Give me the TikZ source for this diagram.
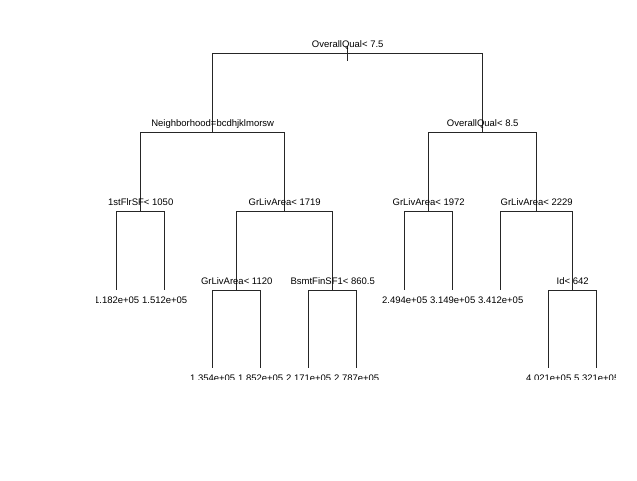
\documentclass[tikz,border=0pt]{standalone}
\usepackage{fontspec}
\setmainfont{Liberation Sans}
\usetikzlibrary{positioning}

\begin{document}
\begin{tikzpicture}[x=1pt,y=-1pt]
			\tikzstyle{Label}	= [anchor=base, inner sep=0pt, font=\fontsize{9.5}{11}\selectfont]
			\tikzstyle{Split}	= [Label]
			\tikzstyle{Leaf}	= [Label]
			\tikzstyle{Branch}	= [black!85, line width=0.9pt]
			
			\useasboundingbox (0,0) rectangle (637,480);
			
			% split points
			\coordinate (s0) at (347.7,53);
			\coordinate (s1) at (212.7,132.5);
			\coordinate (s2) at (482.7,132.5);
			\coordinate (s3) at (140.7,211.5);
			\coordinate (s4) at (284.7,211.5);
			\coordinate (s5) at (428.7,211.5);
			\coordinate (s6) at (536.7,211.5);
			\coordinate (s7) at (236.7,290);
			\coordinate (s8) at (332.7,290);
			\coordinate (s9) at (572.7,290);
			
			% leaves
			\coordinate (f1) at (116.7,290);
			\coordinate (f2) at (164.7,290);
			\coordinate (f3) at (212.7,368);
			\coordinate (f4) at (260.7,368);
			\coordinate (f5) at (308.7,368);
			\coordinate (f6) at (356.7,368);
			\coordinate (f7) at (404.7,290);
			\coordinate (f8) at (452.7,290);
			\coordinate (f9) at (500.7,290);
			\coordinate (f10) at (548.7,368);
			\coordinate (f11) at (596.7,368);
			
			\coordinate (r0) at (347.7,46);
			\coordinate (r1) at (347.7,61);
			\draw [-] (r0) to (r1) [Branch];
			
			\draw [-] (s0) -| (s1) [Branch];
			\draw [-] (s0) -| (s2) [Branch];
			\draw [-] (s1) -| (s3) [Branch];
			\draw [-] (s1) -| (s4) [Branch];
			\draw [-] (s2) -| (s5) [Branch];
			\draw [-] (s2) -| (s6) [Branch];
			\draw [-] (s3) -| (f1) [Branch];
			\draw [-] (s3) -| (f2) [Branch];
			\draw [-] (s4) -| (s7) [Branch];
			\draw [-] (s4) -| (s8) [Branch];
			\draw [-] (s5) -| (f7) [Branch];
			\draw [-] (s5) -| (f8) [Branch];
			\draw [-] (s6) -| (f9) [Branch];
			\draw [-] (s6) -| (s9) [Branch];
			\draw [-] (s7) -| (f3) [Branch];
			\draw [-] (s7) -| (f4) [Branch];
			\draw [-] (s8) -| (f5) [Branch];
			\draw [-] (s8) -| (f6) [Branch];
			\draw [-] (s9) -| (f10) [Branch];
			\draw [-] (s9) -| (f11) [Branch];
			
			\begin{scope}
				\clip (96,0) rectangle (615,379.5);
				\node (t0) at ([yshift=5.6pt]s0) [Split] {OverallQual< 7.5};
				\node (t1) at ([yshift=5.6pt]s1) [Split] {Neighborhood=bcdhjklmorsw};
				\node (t2) at ([yshift=5.6pt]s2) [Split] {OverallQual< 8.5};
				\node (t3) at ([yshift=5.6pt]s3) [Split] {1stFlrSF< 1050};
				\node (t4) at ([yshift=5.6pt]s4) [Split] {GrLivArea< 1719};
				\node (t5) at ([yshift=5.6pt]s5) [Split] {GrLivArea< 1972};
				\node (t6) at ([yshift=5.6pt]s6) [Split] {GrLivArea< 2229};
				\node (t7) at ([yshift=5.6pt]s7) [Split] {GrLivArea< 1120};
				\node (t8) at ([yshift=5.6pt]s8) [Split] {BsmtFinSF1< 860.5};
				\node (t9) at ([yshift=5.6pt]s9) [Split] {Id< 642};
				
				\node (v1) at ([yshift=-13.5pt]f1) [Leaf] {1.182e+05};
				\node (v2) at ([yshift=-13.5pt]f2) [Leaf] {1.512e+05};
				\node (v3) at ([yshift=-13.5pt]f3) [Leaf] {1.354e+05};
				\node (v4) at ([yshift=-13.5pt]f4) [Leaf] {1.852e+05};
				\node (v5) at ([yshift=-13.5pt]f5) [Leaf] {2.171e+05};
				\node (v6) at ([yshift=-13.5pt]f6) [Leaf] {2.787e+05};
				\node (v7) at ([yshift=-13.5pt]f7) [Leaf] {2.494e+05};
				\node (v8) at ([yshift=-13.5pt]f8) [Leaf] {3.149e+05};
				\node (v9) at ([yshift=-13.5pt]f9) [Leaf] {3.412e+05};
				\node (v10) at ([yshift=-13.5pt]f10) [Leaf] {4.021e+05};
				\node (v11) at ([yshift=-13.5pt]f11) [Leaf] {5.321e+05};
			\end{scope}
		\end{tikzpicture}
\end{document}
